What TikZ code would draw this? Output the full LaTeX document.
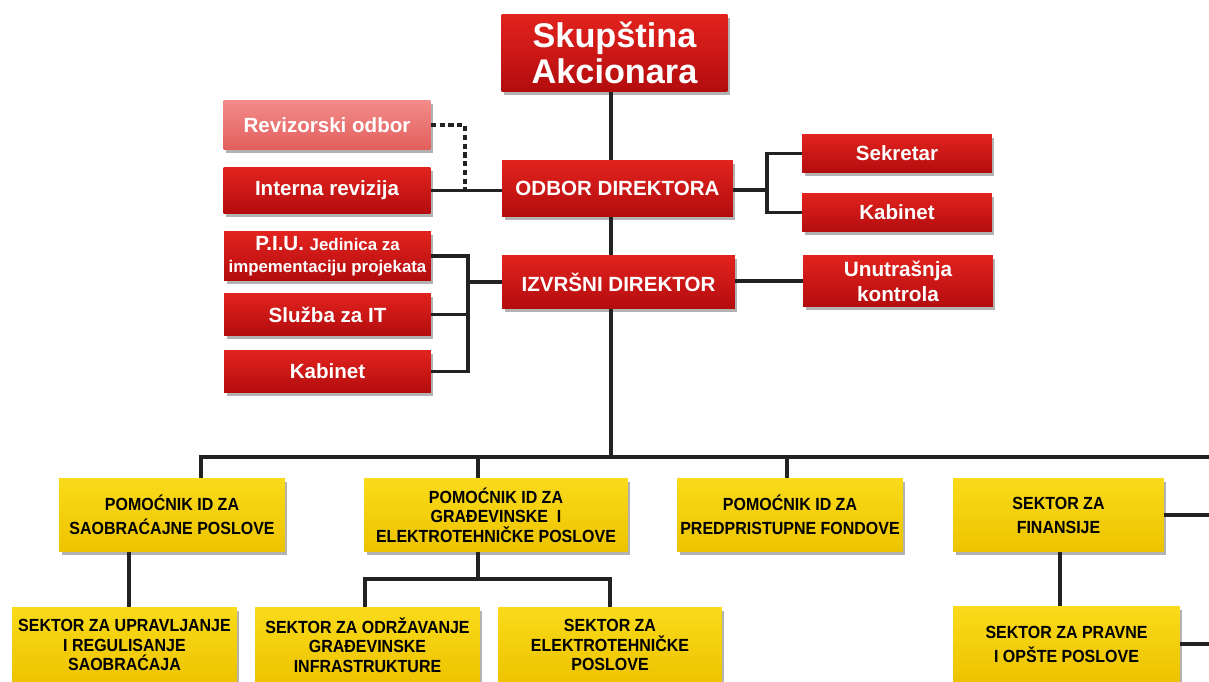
\documentclass[tikz,border=0pt]{standalone}
\usepackage{fontspec}
\setmainfont{Liberation Sans}
\newfontfamily\narrowfont[FakeStretch=0.91]{Liberation Sans}
\usetikzlibrary{shadows}
\definecolor{redtop}{HTML}{E2231E}
\definecolor{redbot}{HTML}{B30C0E}
\definecolor{pinktop}{HTML}{F28C8A}
\definecolor{pinkbot}{HTML}{E25E5C}
\definecolor{yeltop}{HTML}{FADB1A}
\definecolor{yelbot}{HTML}{EDC300}
\definecolor{linec}{HTML}{222222}
\tikzset{
  box/.style={rectangle, inner sep=1pt, align=center,
    drop shadow={shadow xshift=0.05cm, shadow yshift=-0.07cm, opacity=0.3, fill=black}},
  redbox/.style={box, top color=redtop, bottom color=redbot, text=white,
    font=\bfseries\fontsize{11.7}{13}\selectfont},
  pinkbox/.style={redbox, top color=pinktop, bottom color=pinkbot},
  yellowbox/.style={box, top color=yeltop, bottom color=yelbot, text=black,
    font=\narrowfont\bfseries\fontsize{10}{13.7}\selectfont},
  conn/.style={draw=linec, line width=2pt}
}
\begin{document}
\begin{tikzpicture}[x=0.02cm, y=-0.02cm]
\useasboundingbox (0,0) rectangle (1209,682);
% upper part (red)
\node[redbox, font=\bfseries\fontsize{19.5}{20.8}\selectfont, minimum width=4.52cm, minimum height=1.56cm] (skup) at (614.5,53) {Skupština\\Akcionara};
\node[pinkbox, minimum width=4.14cm, minimum height=1cm] (reviz) at (327,125) {Revizorski odbor};
\node[redbox, minimum width=4.14cm, minimum height=0.94cm] (intern) at (327,190.5) {Interna revizija};
\node[redbox, minimum width=4.62cm, minimum height=1.14cm] (odbor) at (617.5,188.5) {ODBOR DIREKTORA};
\node[redbox, minimum width=3.8cm, minimum height=0.78cm] (sekr) at (897,153.5) {Sekretar};
\node[redbox, minimum width=3.8cm, minimum height=0.78cm] (kabR) at (897,212.5) {Kabinet};
\node[redbox, font=\bfseries\fontsize{11.7}{12.5}\selectfont, minimum width=4.14cm, minimum height=0.98cm] (piu) at (327.5,256)
  {P.I.U. {\fontsize{9.6}{12.5}\selectfont Jedinica za}\\{\fontsize{9.6}{12.5}\selectfont impementaciju projekata}};
\node[redbox, minimum width=4.66cm, minimum height=1.06cm] (izvr) at (618.5,282) {IZVRŠNI DIREKTOR};
\node[redbox, font=\bfseries\fontsize{11.8}{14.2}\selectfont, minimum width=3.8cm, minimum height=1.04cm] (unut) at (898,281) {Unutrašnja\\kontrola};
\node[redbox, minimum width=4.14cm, minimum height=0.86cm] (sluzba) at (327.5,314.5) {Služba za IT};
\node[redbox, minimum width=4.14cm, minimum height=0.86cm] (kabL) at (327.5,371.5) {Kabinet};
% lower part (yellow)
\node[yellowbox, minimum width=4.52cm, minimum height=1.48cm] (pom1) at (172,515) {POMOĆNIK ID ZA\\SAOBRAĆAJNE POSLOVE};
\node[yellowbox, font=\narrowfont\bfseries\fontsize{10}{11.1}\selectfont, minimum width=5.28cm, minimum height=1.48cm] (pom2) at (496,515) {POMOĆNIK ID ZA\\GRAĐEVINSKE~~I\\ELEKTROTEHNIČKE POSLOVE};
\node[yellowbox, minimum width=4.52cm, minimum height=1.48cm] (pom3) at (790,515) {POMOĆNIK ID ZA\\PREDPRISTUPNE FONDOVE};
\node[yellowbox, minimum width=4.22cm, minimum height=1.48cm] (fin) at (1058.5,515) {SEKTOR ZA\\FINANSIJE};
\node[yellowbox, font=\narrowfont\bfseries\fontsize{10}{11}\selectfont, minimum width=4.5cm, minimum height=1.52cm] (sek1) at (124.5,645) {SEKTOR ZA UPRAVLJANJE\\I REGULISANJE\\SAOBRAĆAJA};
\node[yellowbox, font=\narrowfont\bfseries\fontsize{10}{11}\selectfont, minimum width=4.5cm, minimum height=1.52cm] (sek2) at (367.5,645) {SEKTOR ZA ODRŽAVANJE\\GRAĐEVINSKE\\INFRASTRUKTURE};
\node[yellowbox, font=\narrowfont\bfseries\fontsize{10}{11}\selectfont, minimum width=4.48cm, minimum height=1.52cm] (sek3) at (610,645) {SEKTOR ZA\\ELEKTROTEHNIČKE\\POSLOVE};
\node[yellowbox, minimum width=4.54cm, minimum height=1.5cm] (prav) at (1066.5,644) {SEKTOR ZA PRAVNE\\I OPŠTE POSLOVE};
% helper points
\coordinate (t) at (611,457);
\coordinate (rb) at (767,190);
\coordinate (lb) at (468,282);
\coordinate (dash) at (465,190);
\coordinate (d1) at (201,457);
\coordinate (d2) at (478,457);
\coordinate (d3) at (787,457);
\coordinate (edge) at (1215,457);
\coordinate (s1) at (129,580);
\coordinate (s2) at (478,579);
\coordinate (s3) at (1060,580);
% connectors
\draw[conn] (skup.south -| t) -- (odbor.north -| t);
\draw[conn] (odbor.south -| t) -- (izvr.north -| t);
\draw[conn] (izvr.south -| t) -- (t);
\draw[conn] (intern.east) -- (intern.east -| odbor.west);
\draw[conn, line width=1.8pt, dash pattern=on 3pt off 2pt] (reviz.east) -| (dash);
\draw[conn] (odbor.east |- rb) -- (rb);
\draw[conn] (sekr.west) -| (rb) |- (kabR.west);
\draw[conn] (izvr.east |- unut) -- (unut.west);
\draw[conn] (piu.east) -| (lb |- kabL.east) -- (kabL.east);
\draw[conn] (sluzba.east) -- (sluzba.east -| lb);
\draw[conn] (lb) -- (lb -| izvr.west);
\draw[conn] (pom1.north -| d1) -- (d1) -- (edge);
\draw[conn] (pom2.north -| d2) -- (d2);
\draw[conn] (pom3.north -| d3) -- (d3);
\draw[conn] (pom1.south -| s1) -- (sek1.north -| s1);
\draw[conn] (pom2.south -| s2) -- (s2);
\draw[conn] (sek2.north -| 365,0) |- (s2) -| (sek3.north);
\draw[conn] (fin.south -| s3) -- (prav.north -| s3);
\draw[conn] (fin.east) -- (fin.east -| edge);
\draw[conn] (prav.east) -- (prav.east -| edge);
\end{tikzpicture}
\end{document}
